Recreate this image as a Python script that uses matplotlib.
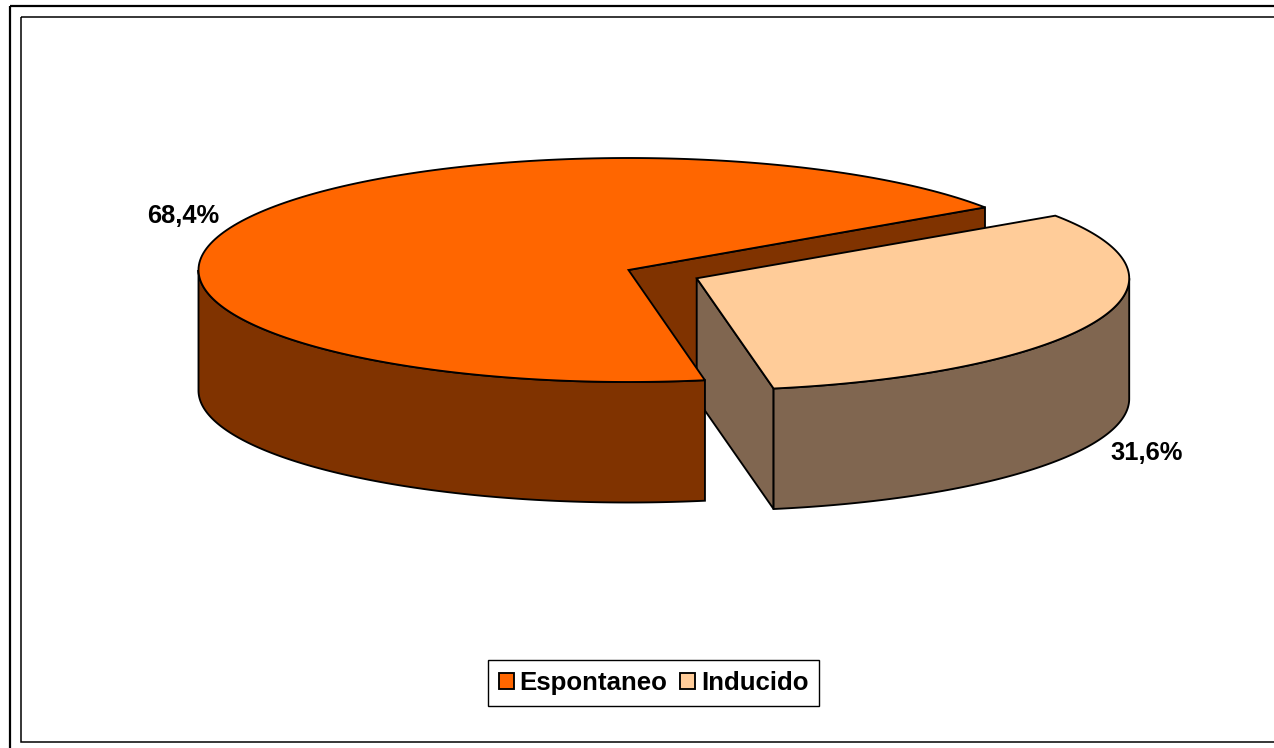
import numpy as np
from matplotlib import pyplot as plt
from matplotlib.patches import Patch, Polygon, Rectangle

categories = ['Espontaneo', 'Inducido']
shares = [68.4, 31.6]
share_labels = ['68,4%', '31,6%']

top_colors = ['#FF6600', '#FFCC99']
side_colors = ['#803300', '#806650']

# pie geometry in image pixels
start_angle = 34.0
radius_x = [430, 432.5]
radius_y = 112
depth = 120.5
centers = [(628.5, 270), (696.7, 278.3)]
line_w = 1.35

plt.rcParams['font.family'] = ['Liberation Sans', 'DejaVu Sans']

fig = plt.figure(figsize=(12.74, 7.48), dpi=100)
ax = fig.add_axes([0, 0, 1, 1])
ax.set_xlim(0, 1274)
ax.set_ylim(748, 0)
ax.axis('off')


def arc(center, rx, t0, t1, drop=0):
    t = np.radians(np.linspace(t0, t1, 200))
    return np.column_stack([center[0] + rx * np.cos(t),
                            center[1] - radius_y * np.sin(t) + drop])


def poly(points, color, z):
    ax.add_patch(Polygon(points, closed=True, facecolor=color, edgecolor='black',
                         linewidth=line_w, joinstyle='miter', zorder=z))


# chart frames, open towards the picture edge
ax.add_patch(Rectangle((10, 6), 1300, 800, fill=False, edgecolor='black', linewidth=1.6, zorder=1))
ax.add_patch(Rectangle((20.5, 16.5), 1300, 725, fill=False, edgecolor='black', linewidth=1.1, zorder=1))

edges = start_angle + np.cumsum([0] + shares) * 3.6

# Espontaneo: cut face at the back, rim and top go over the Inducido cut face
c, rx = centers[0], radius_x[0]
t0, t1 = edges[0], edges[1]
tip = arc(c, rx, t0, t0)[:1]
poly(np.vstack([[c], tip, tip + [0, depth], [[c[0], c[1] + depth]]]), side_colors[0], 2)
poly(np.vstack([arc(c, rx, 180, t1), arc(c, rx, t1, 180, depth)]), side_colors[0], 4)
poly(np.vstack([[c], arc(c, rx, t0, t1)]), top_colors[0], 5)

# Inducido: cut face, rim, top
c, rx = centers[1], radius_x[1]
t0, t1 = edges[1], edges[2]
low = arc(c, rx, t0, t0)[:1]
poly(np.vstack([[c], low, low + [0, depth], [[c[0], c[1] + depth]]]), side_colors[1], 3)
poly(np.vstack([arc(c, rx, t0, 360), arc(c, rx, 360, t0, depth)]), side_colors[1], 6)
poly(np.vstack([[c], arc(c, rx, t0, t1)]), top_colors[1], 7)

ax.text(183, 216, share_labels[0], fontsize=18.4, fontweight='bold', ha='center', va='center', zorder=8)
ax.text(1147, 453, share_labels[1], fontsize=18.4, fontweight='bold', ha='center', va='center', zorder=8)

handles = [Patch(facecolor=col, edgecolor='black', linewidth=line_w) for col in top_colors]
leg = ax.legend(handles, categories, loc='center', bbox_to_anchor=(653.5, 683), bbox_transform=ax.transData,
                ncol=2, frameon=True, fancybox=False, framealpha=1, edgecolor='black',
                prop={'size': 18.6, 'weight': 'bold'}, handlelength=0.6, handleheight=0.6,
                handletextpad=0.22, columnspacing=0.47, borderpad=0.42, borderaxespad=0)
leg.get_frame().set_linewidth(1.0)
leg.set_zorder(9)

fig.savefig('out.png', dpi=100)
